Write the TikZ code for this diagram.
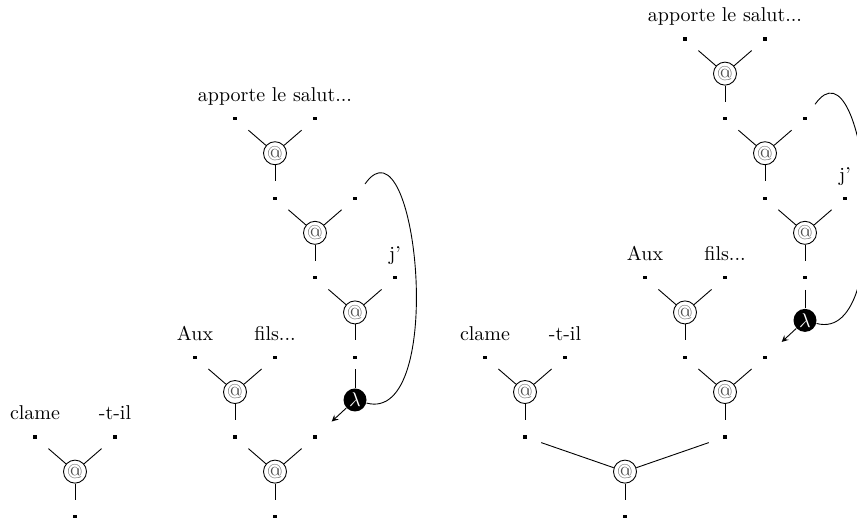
\documentclass[tikz,border=0pt]{standalone}
\tikzset{
  pt/.style={fill, rectangle, inner sep=0pt, minimum size=1.6pt},
  app/.style={circle, draw, inner sep=0pt, minimum size=11.5pt, text=black!70},
  lam/.style={circle, fill=black, text=white, inner sep=0pt, minimum size=11.5pt},
  word/.style={anchor=base, inner sep=0pt},
  arg/.style={shorten >=7.5pt},
}
\begin{document}
\begin{tikzpicture}[x=20pt,y=19.9pt,line width=0.45pt]
\useasboundingbox (-0.875,0.98) rectangle (20.55,-12.13);
% clame -t-il
\node[pt] (c1) at (0,-10) {};
\node[pt] (c2) at (2,-10) {};
\node[app] (a0) at (1,-10.87) {@};
\node[pt] (c3) at (1,-12) {};
\node[word] (w1) at (0,-9.57) {clame};
\node[word] (w2) at (2,-9.57) {-t-il};
% middle
\node[pt] (p1) at (5,-2) {};
\node[pt] (p2) at (7,-2) {};
\node[app] (m1) at (6,-2.87) {@};
\node[pt] (p3) at (6,-4) {};
\node[pt] (p4) at (8,-4) {};
\node[app] (m2) at (7,-4.87) {@};
\node[pt] (p5) at (7,-6) {};
\node[pt] (p6) at (9,-6) {};
\node[app] (m3) at (8,-6.87) {@};
\node[pt] (p7) at (8,-8) {};
\node[lam] (l1) at (8,-9.07) {$\lambda$};
\node[pt] (p8) at (4,-8) {};
\node[pt] (p9) at (6,-8) {};
\node[app] (m4) at (5,-8.87) {@};
\node[pt] (p10) at (5,-10) {};
\node[pt] (p11) at (7,-10) {};
\node[app] (m5) at (6,-10.87) {@};
\node[pt] (p12) at (6,-12) {};
\node[word] (w3) at (6,-1.57) {apporte le salut...};
\node[word] (w4) at (9,-5.57) {j'};
\node[word] (w5) at (4,-7.57) {Aux};
\node[word] (w6) at (6,-7.57) {fils...};
% right
\node[pt] (q1) at (16.25,0) {};
\node[pt] (q2) at (18.25,0) {};
\node[app] (n1) at (17.25,-0.87) {@};
\node[pt] (q3) at (17.25,-2) {};
\node[pt] (q4) at (19.25,-2) {};
\node[app] (n2) at (18.25,-2.87) {@};
\node[pt] (q5) at (18.25,-4) {};
\node[pt] (q6) at (20.25,-4) {};
\node[app] (n3) at (19.25,-4.87) {@};
\node[pt] (q7) at (19.25,-6) {};
\node[lam] (l2) at (19.25,-7.07) {$\lambda$};
\node[pt] (q8) at (15.25,-6) {};
\node[pt] (q9) at (17.25,-6) {};
\node[app] (n4) at (16.25,-6.87) {@};
\node[pt] (q10) at (16.25,-8) {};
\node[pt] (q11) at (18.25,-8) {};
\node[app] (n5) at (17.25,-8.87) {@};
\node[pt] (q12) at (17.25,-10) {};
\node[pt] (q13) at (11.25,-8) {};
\node[pt] (q14) at (13.25,-8) {};
\node[app] (n6) at (12.25,-8.87) {@};
\node[pt] (q15) at (12.25,-10) {};
\node[app] (n7) at (14.75,-10.87) {@};
\node[pt] (q16) at (14.75,-12) {};
\node[word] (w7) at (17.25,0.43) {apporte le salut...};
\node[word] (w8) at (20.25,-3.57) {j'};
\node[word] (w9) at (15.25,-5.57) {Aux};
\node[word] (w10) at (17.25,-5.57) {fils...};
\node[word] (w11) at (11.25,-7.57) {clame};
\node[word] (w12) at (13.25,-7.57) {-t-il};
% applications
\foreach \a/\l/\r/\o in {a0/c1/c2/c3, m1/p1/p2/p3, m2/p3/p4/p5, m3/p5/p6/p7,
  m4/p8/p9/p10, m5/p10/p11/p12, n1/q1/q2/q3, n2/q3/q4/q5, n3/q5/q6/q7,
  n4/q8/q9/q10, n5/q10/q11/q12, n6/q13/q14/q15, n7/q15/q12/q16}
{
\draw[arg] (\a) -- (\l);
\draw[arg] (\a) -- (\r);
\draw[arg] (\a) -- (\o);
}
% lambdas
\draw[shorten <=5pt] (p7) -- (l1);
\draw[-stealth, shorten >=10pt] (l1) -- (p11);
\draw[arg] (l1) .. controls +(-15:2.4) and +(55:2.7) .. (p4);
\draw[shorten <=5pt] (q7) -- (l2);
\draw[-stealth, shorten >=10pt] (l2) -- (q11);
\draw[arg] (l2) .. controls +(-15:2.4) and +(55:2.7) .. (q4);
\end{tikzpicture}
\end{document}
